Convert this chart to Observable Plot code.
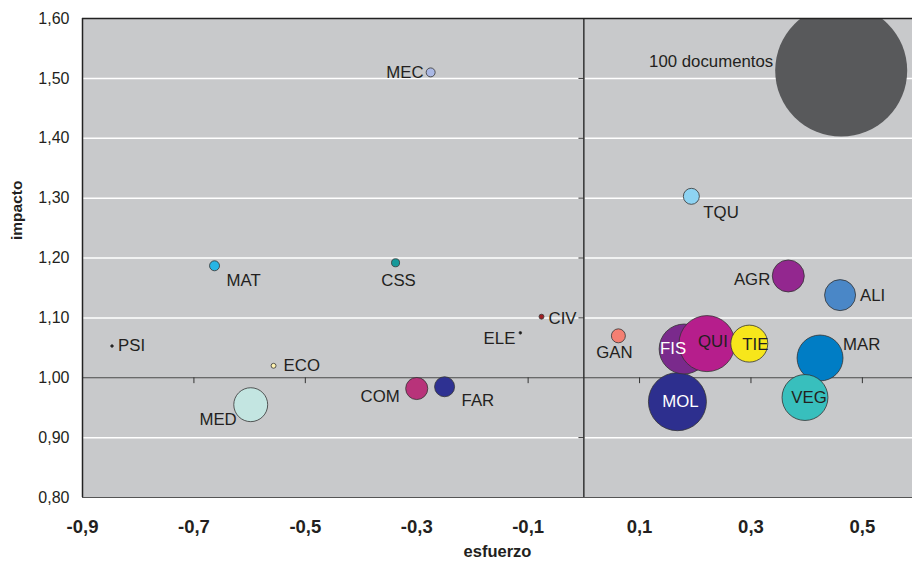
<!DOCTYPE html>
<html><head><meta charset="utf-8">
<script src="https://cdn.jsdelivr.net/npm/d3@7"></script>
<script src="https://cdn.jsdelivr.net/npm/@observablehq/plot@0.6"></script>
<style>body{margin:0;background:#fff} svg{display:block}</style>
</head><body><div id="chart"></div>
<script>
// Data
const areas      = ["PSI","MAT","MEC","CSS","CIV","ELE","ECO","MED","COM","FAR","GAN","TQU","AGR","ALI","MAR","VEG","MOL","FIS","QUI","TIE"];
const esfuerzo   = [-0.847,-0.663,-0.275,-0.338,-0.076,-0.114,-0.557,-0.598,-0.300,-0.250,0.062,0.193,0.367,0.460,0.424,0.397,0.168,0.180,0.221,0.297];
const impacto    = [1.053,1.187,1.510,1.192,1.102,1.075,1.020,0.955,0.982,0.985,1.070,1.303,1.170,1.138,1.033,0.967,0.960,1.048,1.057,1.057];
const documentos = [0.04,0.57,0.46,0.37,0.14,0.04,0.14,6.6,2.8,2.3,1.12,1.47,5.88,5.52,12.1,12.1,19.3,14.3,18.0,7.86];
const refLabel = "100 documentos";
const refX = 0.462, refY = 1.513, refDocs = 100;
const xTicks = [-0.9,-0.7,-0.5,-0.3,-0.1,0.1,0.3,0.5];
const yTicks = [0.8,0.9,1.0,1.1,1.2,1.3,1.4,1.5,1.6];

// Styles
const colors = {PSI:"#1a1a1a",MAT:"#27b5e5",MEC:"#aab8e4",CSS:"#16999a",CIV:"#a01e22",ELE:"#1a1a1a",ECO:"#fff3b0",
  MED:"#c3e5e1",COM:"#b8337a",FAR:"#2e3192",GAN:"#f47f72",TQU:"#8ed3f2",AGR:"#93278f",ALI:"#4a87c7",MAR:"#007dc5",
  VEG:"#38bfbd",MOL:"#2d2f8e",FIS:"#7a2a8c",QUI:"#b61e8c",TIE:"#f7e61b"};
// [textAnchor, dx, dy, fill]
const place = {PSI:["start",6,0],MAT:["start",12,15],MEC:["end",-7,0],CSS:["middle",3,18],CIV:["start",7,2],
  ELE:["end",-5,6],ECO:["start",10,0],MED:["end",-14,15],COM:["end",-17,8],FAR:["start",17,14],GAN:["middle",-4,17],
  TQU:["start",12,16],AGR:["end",-18,4],ALI:["start",20,0],MAR:["start",23,-13],VEG:["middle",4,0],
  MOL:["middle",3,0,"white"],FIS:["middle",-11,0,"white"],QUI:["middle",6,-2],TIE:["middle",6,1]};

const data = areas.map((a,i) => ({name:a, x:esfuerzo[i], y:impacto[i], docs:documentos[i]}));
const ref = [{name:refLabel, x:refX, y:refY, docs:refDocs}];
const fmt = d => d.toFixed(2).replace(".", ",");
const fmtX = d => d.toFixed(1).replace(".", ",");
const tickShape = {draw(ctx, l) { ctx.moveTo(0,0); ctx.lineTo(0,-l); }};
const textColor = "#231f20";
const labelSize = 16.8;

const chart = Plot.plot({
  width: 912, height: 563,
  marginLeft: 82, marginRight: 0, marginTop: 18, marginBottom: 66,
  style: {fontFamily: "'Liberation Sans', Arial, sans-serif", background: "white", color: textColor},
  x: {domain: [-0.9, 0.59]},
  y: {domain: [0.8, 1.6]},
  r: {type: "sqrt", domain: [0, 100], range: [0, 66]},
  color: {type: "identity"},
  marks: [
    Plot.frame({fill: "#c8c9cb", stroke: null}),
    Plot.ruleY([0.9,1.1,1.2,1.3,1.4,1.5], {stroke: "white", strokeWidth: 1.5}),
    Plot.ruleY([1], {stroke: "#4a4a4a", strokeWidth: 1.2}),
    Plot.ruleX([0], {stroke: "#333", strokeWidth: 1.5}),
    Plot.vector(xTicks.filter(d => d > -0.9), {x: d => d, y: 1, length: 5, rotate: 180, anchor: "start", shape: tickShape, stroke: "#333", strokeWidth: 1}),
    Plot.vector([0.9,1.1,1.2,1.3,1.4,1.5], {x: 0, y: d => d, length: 5, rotate: -90, anchor: "start", shape: tickShape, stroke: "#333", strokeWidth: 1}),
    Plot.dot(ref, {x: "x", y: "y", r: "docs", fill: "#58595b", clip: true}),
    Plot.ruleY([1.6], {stroke: "#222", strokeWidth: 1.5}),
    Plot.ruleY([0.8], {stroke: "#555", strokeWidth: 1.2}),
    Plot.ruleX([-0.9], {stroke: "#222", strokeWidth: 1.5}),
    Plot.dot(data, {x: "x", y: "y", r: "docs", fill: d => colors[d.name], stroke: "#333", strokeWidth: 0.8, sort: null}),
    ...data.map(d => {
      const [anchor, dx, dy, fill] = place[d.name];
      return Plot.text([d], {x: "x", y: "y", text: "name", textAnchor: anchor, dx, dy, fill: fill || textColor, fontSize: labelSize});
    }),
    Plot.text(ref, {x: "x", y: "y", text: "name", textAnchor: "end", dx: -68, dy: -9, fill: textColor, fontSize: labelSize}),
    Plot.axisY(yTicks, {tickSize: 0, tickPadding: 13, tickFormat: fmt, fontSize: 16, label: null}),
    Plot.axisX(xTicks, {tickSize: 0, tickPadding: 22, tickFormat: fmtX, fontSize: 18.5, fontWeight: "bold", label: null}),
    Plot.text(["esfuerzo"], {frameAnchor: "bottom", dy: 59, fontSize: 16.5, fontWeight: "bold", fill: textColor}),
    Plot.text(["impacto"], {frameAnchor: "left", dx: -65, dy: -18, rotate: -90, fontSize: 15.5, fontWeight: "bold", fill: textColor})
  ]
});
document.getElementById("chart").appendChild(chart);
</script>
</body></html>
